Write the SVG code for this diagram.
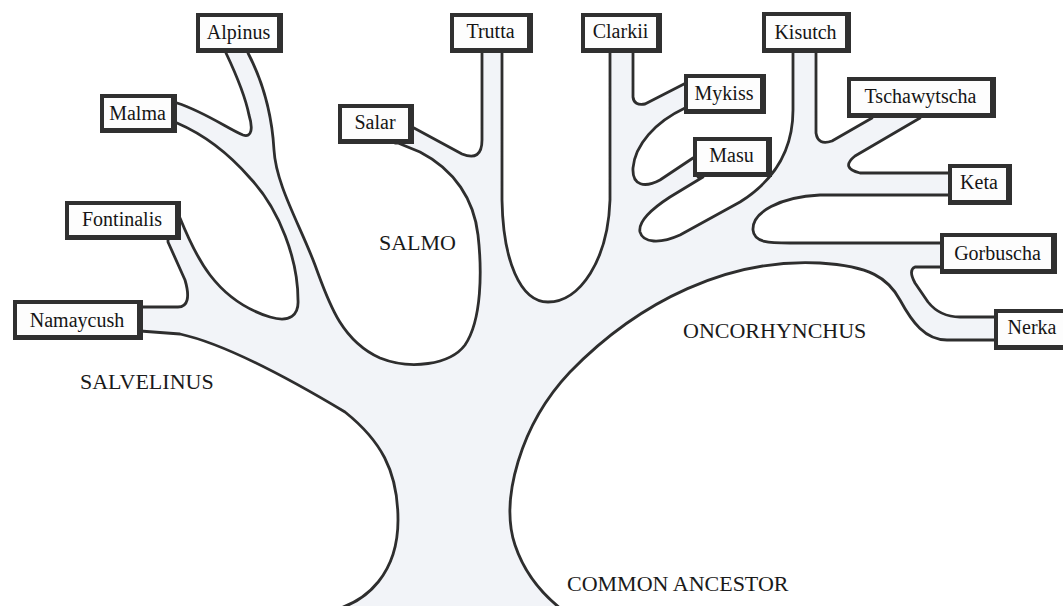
<svg xmlns="http://www.w3.org/2000/svg" width="1063" height="606" viewBox="0 0 1063 606">
<style>
.tree{fill:#f2f4f8;stroke:#2e2e2e;stroke-width:2.8;stroke-linejoin:round;stroke-linecap:round}
.sh{fill:#303030}
.bx{fill:#fdfdfd}
.t{font-family:"Liberation Serif","Times New Roman",serif;font-size:20px;fill:#151515;text-anchor:middle}
.lab{font-family:"Liberation Serif","Times New Roman",serif;font-size:22px;fill:#1a1a1a}
</style>
<rect width="1063" height="606" fill="#ffffff"/>
<g id="connectors">
<path class="tree" d="M 325 612 C 370 604, 398 570, 398 520 C 398 470, 380 440, 345 412 C 300 385, 230 345, 180 334 L 140 331 L 140 307 L 178 307 C 188 307, 190 297, 185 280 L 168 242 L 168 236 L 178 236 L 180 218 C 195 255, 215 300, 270 317 C 290 323, 299 315, 298 300 C 298 260, 280 210, 250 178 C 230 155, 205 135, 177 123 L 172 123 L 172 103 L 177 103 C 205 112, 230 130, 243 135 C 252 138, 253 128, 249 115 C 245 95, 235 72, 226 53 L 226 48 L 248 48 L 248 53 C 262 80, 272 115, 274 150 C 276 185, 300 225, 315 265 C 328 300, 340 340, 380 358 C 410 370, 450 365, 465 345 C 482 320, 482 270, 478 235 C 474 200, 455 170, 420 152 L 398 143 L 395 143 L 395 128 L 414 128 L 462 154 Q 482 162, 482 140 L 482 53 L 482 48 L 502 48 L 502 200 C 503 260, 520 302, 548 302 C 580 302, 608 260, 610 200 L 610 48 L 633 48 L 633 97 Q 634 106, 645 104 L 684 84 L 690 84 L 690 108 L 685 108 C 655 122, 635 145, 633 168 C 632 186, 645 188, 660 180 L 693 158 L 698 158 L 698 177 L 703 177 L 670 197 C 650 210, 638 222, 640 232 C 643 243, 660 244, 680 235 L 740 202 C 775 180, 793 150, 793 110 L 793 48 L 816 48 L 816 133 Q 818 146, 832 141 L 872 118 L 872 112 L 920 112 L 920 118 L 855 156 Q 840 168, 860 173 L 950 173 L 955 173 L 955 195 L 950 195 L 820 195 C 780 197, 752 212, 753 230 C 754 243, 770 243, 790 243 L 940 243 L 945 243 L 945 267 L 940 267 L 915 267 Q 908 270, 915 283 L 928 302 Q 940 317, 960 317 L 995 317 L 1000 317 L 1000 340 L 995 340 L 947 340 C 925 340, 912 322, 900 300 C 888 278, 870 266, 820 263 C 730 258, 640 300, 570 372 C 520 425, 500 500, 515 545 C 525 575, 545 597, 565 612 Z"/>
</g>
<g id="alpinus"><rect class="sh" x="196" y="13" width="87" height="40"/><rect class="bx" x="200" y="17" width="77" height="31"/><text class="t" x="238.5" y="39">Alpinus</text></g>
<g id="malma"><rect class="sh" x="100" y="94" width="77" height="39"/><rect class="bx" x="104" y="98" width="67" height="30"/><text class="t" x="137.5" y="120">Malma</text></g>
<g id="fontinalis"><rect class="sh" x="65" y="201" width="116" height="39"/><rect class="bx" x="69" y="205" width="106" height="30"/><text class="t" x="122" y="226">Fontinalis</text></g>
<g id="namaycush"><rect class="sh" x="13" y="300" width="130" height="40"/><rect class="bx" x="17" y="304" width="120" height="31"/><text class="t" x="77" y="327">Namaycush</text></g>
<g id="salar"><rect class="sh" x="338" y="104" width="76" height="40"/><rect class="bx" x="342" y="108" width="66" height="31"/><text class="t" x="375" y="129">Salar</text></g>
<g id="trutta"><rect class="sh" x="450" y="13" width="83" height="40"/><rect class="bx" x="454" y="17" width="73" height="31"/><text class="t" x="490.5" y="38">Trutta</text></g>
<g id="clarkii"><rect class="sh" x="581" y="13" width="81" height="40"/><rect class="bx" x="585" y="17" width="71" height="31"/><text class="t" x="620.5" y="38">Clarkii</text></g>
<g id="kisutch"><rect class="sh" x="762" y="12" width="89" height="41"/><rect class="bx" x="766" y="16" width="79" height="32"/><text class="t" x="805.5" y="39">Kisutch</text></g>
<g id="mykiss"><rect class="sh" x="684" y="74" width="82" height="40"/><rect class="bx" x="688" y="78" width="72" height="31"/><text class="t" x="724" y="100">Mykiss</text></g>
<g id="masu"><rect class="sh" x="693" y="137" width="79" height="40"/><rect class="bx" x="697" y="141" width="69" height="31"/><text class="t" x="731.5" y="162">Masu</text></g>
<g id="tschawytscha"><rect class="sh" x="847" y="77" width="149" height="41"/><rect class="bx" x="851" y="81" width="139" height="32"/><text class="t" x="920.5" y="103">Tschawytscha</text></g>
<g id="keta"><rect class="sh" x="948" y="164" width="64" height="41"/><rect class="bx" x="952" y="168" width="54" height="32"/><text class="t" x="979" y="189">Keta</text></g>
<g id="gorbuscha"><rect class="sh" x="940" y="233" width="117" height="41"/><rect class="bx" x="944" y="237" width="107" height="32"/><text class="t" x="997.5" y="260">Gorbuscha</text></g>
<g id="nerka"><rect class="sh" x="994" y="309" width="75" height="41"/><rect class="bx" x="998" y="313" width="65" height="32"/><text class="t" x="1032" y="334">Nerka</text></g>
<g id="labels">
<text class="lab" x="80" y="389">SALVELINUS</text>
<text class="lab" x="379" y="250">SALMO</text>
<text class="lab" x="683" y="338">ONCORHYNCHUS</text>
<text class="lab" x="567" y="591">COMMON ANCESTOR</text>
</g>
</svg>
